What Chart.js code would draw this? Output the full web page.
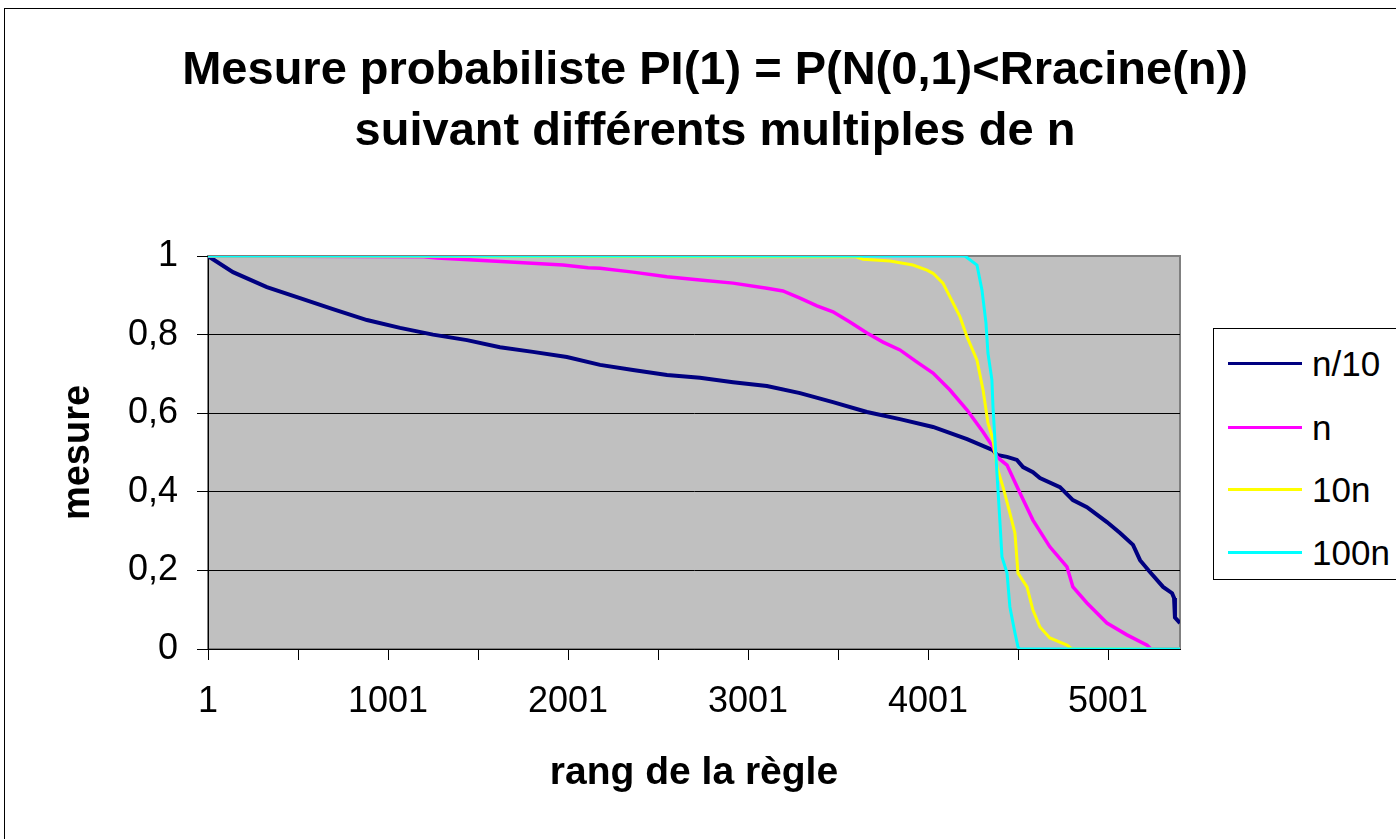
<!DOCTYPE html>
<html>
<head>
<meta charset="utf-8">
<script src="https://cdn.jsdelivr.net/npm/chart.js@4/dist/chart.umd.min.js"></script>
<style>
  html, body { margin: 0; padding: 0; background: #fff; overflow: hidden; }
  #frame {
    position: absolute; left: 4px; top: 8px;
    width: 1420px; height: 838px;
    border: 1px solid #000; background: #fff;
  }
  #legend {
    position: absolute; left: 1213px; top: 328px;
    width: 220px; height: 250px;
    border: 1px solid #000; background: #fff;
    font-family: 'Liberation Sans', Arial, sans-serif; font-size: 35px; color: #000;
  }
  .row { position: absolute; left: 14px; height: 40px; }
  .row .swatch { position: absolute; left: 0; top: 18px; width: 74px; height: 3px; }
  .row .lbl { position: absolute; left: 84px; top: 0; line-height: 40px; white-space: nowrap; }
</style>
</head>
<body>
<div id="frame"><canvas id="chart" width="1420" height="838"></canvas></div>
<div id="legend"></div>
<script>
// --- data (rank, mesure) ---
const rankN10 = [1, 140, 328, 512, 695, 884, 1068, 1251, 1440, 1623, 1806, 1995, 2179, 2362, 2551, 2734, 2918, 3106, 3290, 3473, 3662, 3845, 4029, 4218, 4362, 4384, 4440, 4495, 4529, 4584, 4623, 4734, 4806, 4884, 4995, 5068, 5140, 5179, 5234, 5307, 5357, 5368, 5373, 5401];
const valN10  = [1, 0.959, 0.921, 0.893, 0.865, 0.837, 0.817, 0.800, 0.786, 0.768, 0.756, 0.743, 0.723, 0.710, 0.697, 0.690, 0.679, 0.669, 0.651, 0.628, 0.603, 0.585, 0.565, 0.534, 0.506, 0.494, 0.489, 0.481, 0.463, 0.450, 0.435, 0.412, 0.379, 0.361, 0.323, 0.295, 0.265, 0.226, 0.196, 0.158, 0.142, 0.130, 0.080, 0.066];

const rankN = [1, 1200, 1273, 1679, 1973, 2112, 2179, 2362, 2551, 2734, 2918, 3106, 3195, 3290, 3384, 3473, 3567, 3662, 3751, 3845, 3940, 4029, 4123, 4218, 4307, 4362, 4384, 4440, 4512, 4584, 4678, 4773, 4806, 4884, 4995, 5106, 5218, 5240, 5401];
const valN  = [1, 0.998, 0.995, 0.985, 0.977, 0.970, 0.969, 0.959, 0.947, 0.939, 0.931, 0.918, 0.911, 0.893, 0.873, 0.858, 0.832, 0.804, 0.781, 0.761, 0.730, 0.702, 0.659, 0.608, 0.552, 0.514, 0.489, 0.468, 0.397, 0.328, 0.260, 0.209, 0.158, 0.117, 0.066, 0.036, 0.010, 0, 0];

const rank10N = [1, 3600, 3640, 3790, 3917, 3995, 4029, 4084, 4123, 4179, 4218, 4273, 4307, 4334, 4362, 4384, 4418, 4456, 4484, 4501, 4551, 4584, 4623, 4678, 4773, 4800, 5401];
const val10N  = [1, 0.998, 0.992, 0.987, 0.977, 0.964, 0.956, 0.931, 0.896, 0.845, 0.794, 0.735, 0.659, 0.575, 0.532, 0.463, 0.412, 0.346, 0.295, 0.193, 0.158, 0.099, 0.056, 0.028, 0.010, 0, 0];

const rank100N = [1, 4206, 4273, 4301, 4323, 4334, 4356, 4362, 4373, 4384, 4401, 4412, 4440, 4456, 4484, 4501, 4510, 5401];
const val100N  = [1, 1, 0.977, 0.913, 0.830, 0.753, 0.685, 0.616, 0.532, 0.448, 0.321, 0.234, 0.193, 0.107, 0.041, 0.005, 0, 0];

const seriesNames = ['n/10', 'n', '10n', '100n'];
const seriesColors = ['#000080', '#FF00FF', '#FFFF00', '#00FFFF'];
const xTickValues = [1, 501, 1001, 1501, 2001, 2501, 3001, 3501, 4001, 4501, 5001];
const xLabelValues = [1, 1001, 2001, 3001, 4001, 5001];

const FONT = "'Liberation Sans', Arial, Helvetica, sans-serif";
const zip = (xs, ys) => xs.map((x, i) => ({ x, y: ys[i] }));

const series = [[rankN10, valN10], [rankN, valN], [rank10N, val10N], [rank100N, val100N]];
const widths = [4, 3.5, 3, 3];

const datasets = series.map(([xs, ys], i) => ({
  label: seriesNames[i],
  data: zip(xs, ys),
  borderColor: seriesColors[i],
  borderWidth: widths[i],
  pointRadius: 0,
  tension: 0,
  fill: false,
  order: 4 - i,   // later series drawn on top, like Excel
}));

// gray plot area with darker border
const plotBg = {
  id: 'plotBg',
  beforeDraw(chart) {
    const { ctx, chartArea: a } = chart;
    ctx.save();
    ctx.fillStyle = '#C0C0C0';
    ctx.fillRect(a.left, a.top, a.right - a.left, a.bottom - a.top);
    ctx.strokeStyle = '#808080';
    ctx.lineWidth = 2;
    ctx.strokeRect(a.left, a.top, a.right - a.left, a.bottom - a.top);
    ctx.restore();
  },
};

new Chart(document.getElementById('chart'), {
  type: 'line',
  data: { datasets },
  plugins: [plotBg],
  options: {
    responsive: false,
    animation: false,
    layout: { padding: { left: 0, right: 0, top: 0, bottom: 38 } },
    plugins: {
      legend: { display: false },
      tooltip: { enabled: false },
      title: {
        display: true,
        text: ['Mesure probabiliste PI(1) = P(N(0,1)<Rracine(n))', 'suivant différents multiples de n'],
        color: '#000',
        font: { family: FONT, size: 47, weight: 'bold', lineHeight: 1.3 },
        padding: { top: 31, bottom: 93.8 },
      },
    },
    scales: {
      x: {
        type: 'linear',
        min: 1,
        max: 5401,
        afterBuildTicks: s => { s.ticks = xTickValues.map(v => ({ value: v })); },
        afterFit: s => { s.height = 160; },
        ticks: {
          color: '#000',
          font: { family: FONT, size: 36 },
          padding: 20,
          maxRotation: 0,
          autoSkip: false,
          callback: v => xLabelValues.includes(v) ? String(v) : '',
        },
        grid: { drawOnChartArea: false, drawTicks: true, tickLength: 11, tickColor: '#000' },
        border: { color: '#000', width: 1 },
        title: {
          display: true,
          text: 'rang de la règle',
          color: '#000',
          font: { family: FONT, size: 39, weight: 'bold' },
          padding: { top: 0, bottom: 12.6 },
        },
      },
      y: {
        min: 0,
        max: 1,
        afterFit: s => { s.width = 203; },
        ticks: {
          stepSize: 0.2,
          color: '#000',
          font: { family: FONT, size: 36 },
          padding: 19,
          callback: v => (v === 0 || v === 1) ? String(v) : v.toFixed(1).replace('.', ','),
        },
        grid: {
          color: c => (c.tick && c.tick.value >= 0.999) ? 'rgba(0,0,0,0)' : '#000',
          lineWidth: 1,
          tickLength: 11,
          tickColor: '#000',
        },
        border: { color: '#000', width: 1 },
        title: {
          display: true,
          text: 'mesure',
          color: '#000',
          font: { family: FONT, size: 38, weight: 'bold' },
          padding: { top: 51, bottom: 0 },
        },
      },
      // empty right-hand band that leaves room for the legend box
      yRight: {
        position: 'right',
        min: 0,
        max: 1,
        afterFit: s => { s.width = 245; },
        ticks: { display: false },
        grid: { display: false, drawOnChartArea: false },
        border: { display: false },
      },
    },
  },
});

// legend box, built from the same names and colours
const legend = document.getElementById('legend');
const rowTops = [15, 79, 141, 204];
seriesNames.forEach((name, i) => {
  const row = document.createElement('div');
  row.className = 'row';
  row.style.top = rowTops[i] + 'px';
  row.innerHTML = `<div class="swatch" style="background:${seriesColors[i]}"></div><div class="lbl">${name}</div>`;
  legend.appendChild(row);
});
</script>
</body>
</html>
